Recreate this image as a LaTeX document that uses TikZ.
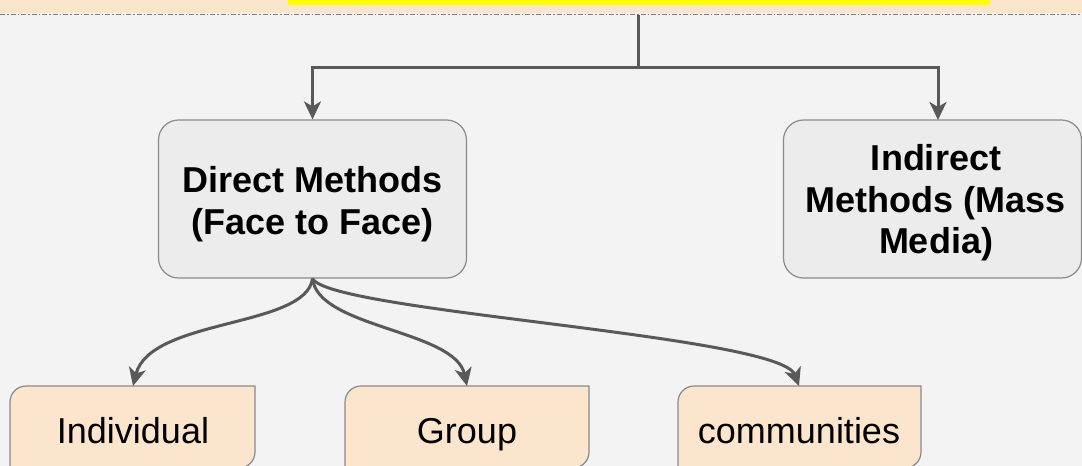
\documentclass[tikz,border=0pt]{standalone}
\usepackage{fontspec}
\setmainfont{Liberation Sans}
\usetikzlibrary{arrows.meta}
\definecolor{bg}{HTML}{F3F3F3}
\definecolor{peach}{HTML}{FCE5CD}
\definecolor{boxgray}{HTML}{ECECEC}
\definecolor{edgegray}{HTML}{8A8A8A}
\definecolor{arrowgray}{HTML}{595959}
\definecolor{hilite}{HTML}{FFFF00}
\tikzset{
  mainbox/.style={draw=edgegray, line width=1.2pt, fill=boxgray, rounded corners=20pt, inner sep=0pt},
  maintext/.style={align=center, font=\fontsize{36}{41.5}\selectfont\bfseries, inner sep=0pt},
  leaftext/.style={font=\fontsize{36}{40}\selectfont, inner sep=0pt, anchor=base},
  conn/.style={draw=arrowgray, line width=3pt, -{Stealth[length=18pt,width=17pt,inset=5pt]}},
  leafedge/.style={draw=edgegray, line width=1.2pt, fill=peach}
}
\begin{document}
\begin{tikzpicture}[x=1pt,y=-1pt]
\useasboundingbox (0,0) rectangle (1082,466);
\clip (0,0) rectangle (1082,466);
\fill[bg] (0,0) rectangle (1082,466);
% top strip
\fill[peach] (0,0) rectangle (1082,13);
\fill[hilite] (288,0) rectangle (990,5);
\draw[gray, line width=1pt, dash pattern=on 5pt off 2pt on 1.5pt off 2pt] (0,14) -- (1082,14);
\coordinate (top) at (638,14.5);
\coordinate (split) at (638,67);
% main boxes
\node[mainbox, minimum width=308pt, minimum height=158pt] (direct) at (312.5,199) {};
\node[maintext] (directtext) at (312.5,204) {Direct Methods\\(Face to Face)};
\node[mainbox, minimum width=298pt, minimum height=158pt] (indirect) at (932.5,199) {};
\node[maintext] (indirecttext) at (936,203) {Indirect\\Methods (Mass\\Media)};
% leaf boxes (rounded top-left and bottom-right)
\foreach \xa/\xb in {10/255, 345/589, 678/921}{
  \draw[leafedge] (\xa,402) .. controls (\xa,393.2) and (\xa+7.2,386) .. (\xa+16,386) -- (\xb,386) -- (\xb,452)
     .. controls (\xb,460.8) and (\xb-7.2,468) .. (\xb-16,468) -- (\xa,468) -- cycle;
}
\node[leaftext] (individual) at (133,443) {Individual};
\node[leaftext] (group) at (467,443) {Group};
\node[leaftext] (communities) at (799,443) {communities};
\coordinate (iTop) at (133,386);
\coordinate (gTop) at (467,386);
\coordinate (cTop) at (799,386);
% connectors
\draw[draw=arrowgray, line width=3pt] (top) -- (split);
\draw[conn] (split) -- (312.5,67) -- (direct.north);
\draw[conn] (split) -- (938,67) -- (938,120);
\draw[conn] (direct.south) .. controls (306,328) and (150,318) .. (iTop);
\draw[conn] (direct.south) .. controls (318,328) and (455,330) .. (gTop);
\draw[conn] (direct.south) .. controls (330,312) and (780,335) .. (cTop);
\end{tikzpicture}
\end{document}
